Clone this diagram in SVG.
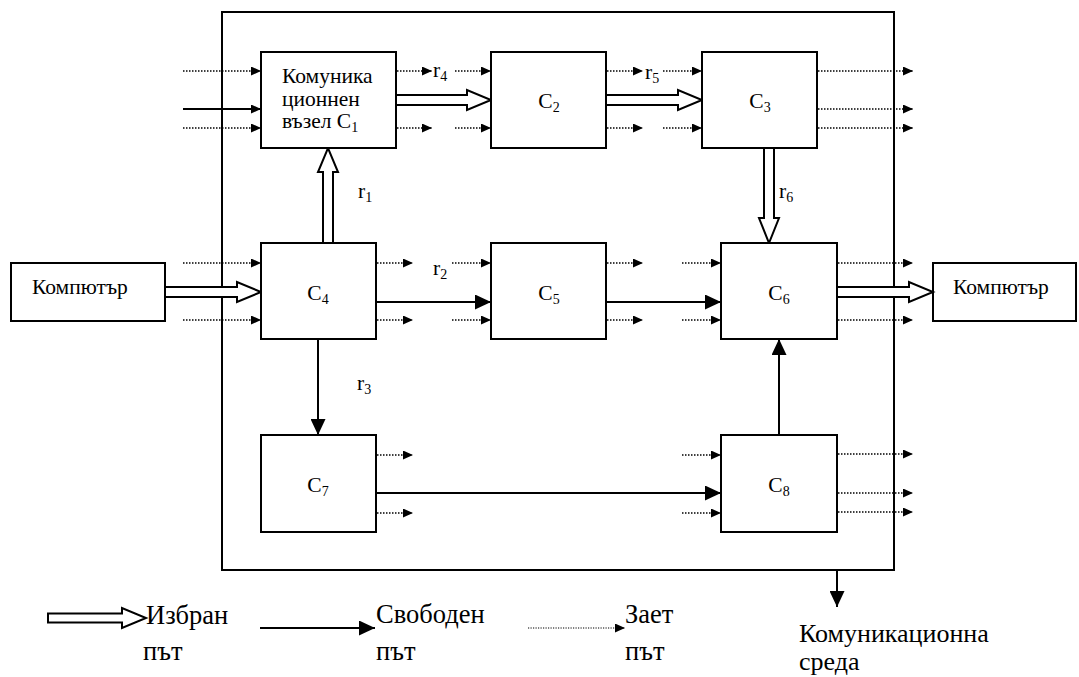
<svg xmlns="http://www.w3.org/2000/svg" width="1079" height="677" viewBox="0 0 1079 677">
<style>
.box{fill:#fff;stroke:#000;stroke-width:2}
.frame{fill:none;stroke:#000;stroke-width:2}
.solid{fill:none;stroke:#000;stroke-width:2}
.dot{fill:none;stroke:#000;stroke-width:1.5;stroke-dasharray:1.5 1.5}
.dotl{fill:none;stroke:#000;stroke-width:1.2;stroke-dasharray:1.2 1.3}
.hollow{fill:#fff;stroke:#000;stroke-width:2;stroke-linejoin:miter}
text{font-family:"Liberation Serif","Times New Roman",serif;fill:#000}
.lbl{font-size:21.5px}
.cl{font-size:21.5px;text-anchor:middle}
.sub{font-size:14px}
.leg{font-size:26.5px}
.big{font-size:26px}
</style>
<defs>
<marker id="sh" markerUnits="userSpaceOnUse" markerWidth="10" markerHeight="9" refX="10" refY="4.5" orient="auto"><path d="M0,0 L10,4.5 L0,9 z" fill="#000"/></marker>
<marker id="bh" markerUnits="userSpaceOnUse" markerWidth="16" markerHeight="15" refX="16" refY="7.5" orient="auto"><path d="M0,0 L16,7.5 L0,15 z" fill="#000"/></marker>
</defs>

<g id="network">
<rect class="frame" x="222" y="12" width="672" height="558"/>
</g>

<g id="computer-left"><rect class="box" x="11" y="263" width="154" height="58"/><text class="lbl" x="32" y="294">Компютър</text></g>
<g id="computer-right"><rect class="box" x="933" y="263" width="143" height="58"/><text class="lbl" x="953" y="294">Компютър</text></g>

<g id="connectors">
<line class="dot" x1="183" y1="71" x2="261" y2="71" marker-end="url(#sh)"/>
<line class="solid" x1="183" y1="109" x2="261" y2="109" marker-end="url(#sh)"/>
<line class="dot" x1="183" y1="128" x2="261" y2="128" marker-end="url(#sh)"/>
<line class="dot" x1="397" y1="71" x2="432" y2="71" marker-end="url(#sh)"/>
<line class="dot" x1="397" y1="128" x2="432" y2="128" marker-end="url(#sh)"/>
<line class="dot" x1="455" y1="71" x2="491" y2="71" marker-end="url(#sh)"/>
<line class="dot" x1="455" y1="128" x2="491" y2="128" marker-end="url(#sh)"/>
<line class="dot" x1="607" y1="71" x2="643" y2="71" marker-end="url(#sh)"/>
<line class="dot" x1="607" y1="128" x2="643" y2="128" marker-end="url(#sh)"/>
<line class="dot" x1="663" y1="71" x2="702" y2="71" marker-end="url(#sh)"/>
<line class="dot" x1="663" y1="128" x2="702" y2="128" marker-end="url(#sh)"/>
<line class="dot" x1="818" y1="71" x2="913" y2="71" marker-end="url(#sh)"/>
<line class="dot" x1="818" y1="109" x2="913" y2="109" marker-end="url(#sh)"/>
<line class="dot" x1="818" y1="128" x2="913" y2="128" marker-end="url(#sh)"/>
<line class="dot" x1="183" y1="263" x2="261" y2="263" marker-end="url(#sh)"/>
<line class="dot" x1="183" y1="320" x2="261" y2="320" marker-end="url(#sh)"/>
<line class="dot" x1="377" y1="263" x2="413" y2="263" marker-end="url(#sh)"/>
<line class="dot" x1="377" y1="320" x2="413" y2="320" marker-end="url(#sh)"/>
<line class="dot" x1="452" y1="263" x2="491" y2="263" marker-end="url(#sh)"/>
<line class="dot" x1="452" y1="320" x2="491" y2="320" marker-end="url(#sh)"/>
<line class="dot" x1="607" y1="263" x2="643" y2="263" marker-end="url(#sh)"/>
<line class="dot" x1="607" y1="320" x2="643" y2="320" marker-end="url(#sh)"/>
<line class="dot" x1="682" y1="263" x2="721" y2="263" marker-end="url(#sh)"/>
<line class="dot" x1="682" y1="320" x2="721" y2="320" marker-end="url(#sh)"/>
<line class="dot" x1="838" y1="263" x2="913" y2="263" marker-end="url(#sh)"/>
<line class="dot" x1="838" y1="320" x2="913" y2="320" marker-end="url(#sh)"/>
<line class="solid" x1="377" y1="302" x2="491" y2="302" marker-end="url(#bh)"/>
<line class="solid" x1="607" y1="302" x2="721" y2="302" marker-end="url(#bh)"/>
<line class="dot" x1="377" y1="455" x2="413" y2="455" marker-end="url(#sh)"/>
<line class="dot" x1="377" y1="513" x2="413" y2="513" marker-end="url(#sh)"/>
<line class="dot" x1="682" y1="455" x2="721" y2="455" marker-end="url(#sh)"/>
<line class="dot" x1="682" y1="513" x2="721" y2="513" marker-end="url(#sh)"/>
<line class="dot" x1="838" y1="454" x2="913" y2="454" marker-end="url(#sh)"/>
<line class="dot" x1="838" y1="493" x2="913" y2="493" marker-end="url(#sh)"/>
<line class="dot" x1="838" y1="512" x2="913" y2="512" marker-end="url(#sh)"/>
<line class="solid" x1="377" y1="493" x2="721" y2="493" marker-end="url(#bh)"/>
<line class="solid" x1="318" y1="339" x2="318" y2="435" marker-end="url(#bh)"/>
<line class="solid" x1="779" y1="435" x2="779" y2="339" marker-end="url(#bh)"/>
<line class="solid" x1="837" y1="570" x2="837" y2="607" marker-end="url(#bh)"/>
<polygon class="hollow" points="396,95 467,95 467,90 491,100 467,110 467,105 396,105"/>
<polygon class="hollow" points="606,95 678,95 678,90 702,100 678,110 678,105 606,105"/>
<polygon class="hollow" points="165,287 237,287 237,282 261,292 237,302 237,297 165,297"/>
<polygon class="hollow" points="837,287 909,287 909,282 933,292 909,302 909,297 837,297"/>
<polygon class="hollow" points="764,148 764,218 759,218 769,243 779,218 774,218 774,148"/>
<polygon class="hollow" points="323,243 323,172 318,172 328,148 338,172 333,172 333,243"/>
</g>

<g id="C1"><rect class="box" x="261" y="52" width="135" height="96"/>
<text class="lbl" x="282" y="83">Комуника</text>
<text class="lbl" x="282" y="106">ционнен</text>
<text class="lbl" x="282" y="128">възел C<tspan class="sub" dy="4">1</tspan></text></g>
<g id="C2"><rect class="box" x="491" y="52" width="115" height="96"/><text class="cl" x="549" y="108">C<tspan class="sub" dy="4">2</tspan></text></g>
<g id="C3"><rect class="box" x="702" y="52" width="115" height="96"/><text class="cl" x="760" y="108">C<tspan class="sub" dy="4">3</tspan></text></g>
<g id="C4"><rect class="box" x="261" y="243" width="115" height="96"/><text class="cl" x="318" y="300">C<tspan class="sub" dy="4">4</tspan></text></g>
<g id="C5"><rect class="box" x="491" y="243" width="115" height="96"/><text class="cl" x="549" y="300">C<tspan class="sub" dy="4">5</tspan></text></g>
<g id="C6"><rect class="box" x="721" y="243" width="116" height="96"/><text class="cl" x="779" y="300">C<tspan class="sub" dy="4">6</tspan></text></g>
<g id="C7"><rect class="box" x="261" y="435" width="115" height="97"/><text class="cl" x="318" y="492">C<tspan class="sub" dy="4">7</tspan></text></g>
<g id="C8"><rect class="box" x="721" y="435" width="116" height="97"/><text class="cl" x="779" y="492">C<tspan class="sub" dy="4">8</tspan></text></g>

<g id="route-labels">
<text class="lbl" x="433" y="77">r<tspan class="sub" dy="4">4</tspan></text>
<text class="lbl" x="645" y="79">r<tspan class="sub" dy="4">5</tspan></text>
<text class="lbl" x="358" y="198">r<tspan class="sub" dy="4">1</tspan></text>
<text class="lbl" x="779" y="198">r<tspan class="sub" dy="4">6</tspan></text>
<text class="lbl" x="433" y="275">r<tspan class="sub" dy="4">2</tspan></text>
<text class="lbl" x="357" y="390">r<tspan class="sub" dy="4">3</tspan></text>
</g>

<g id="medium-label">
<text class="big" x="799" y="642">Комуникационна</text>
<text class="big" x="799" y="670">среда</text>
</g>

<g id="legend">
<polygon class="hollow" points="48,613.5 122,613.5 122,608 146,618 122,628 122,622.5 48,622.5"/>
<text class="leg" x="146" y="624">Избран</text>
<text class="leg" x="143" y="660">път</text>
<line class="solid" x1="260" y1="628" x2="375" y2="628" marker-end="url(#bh)"/>
<text class="leg" x="376" y="623">Свободен</text>
<text class="leg" x="376" y="660">път</text>
<line class="dotl" x1="528" y1="628" x2="625" y2="628" marker-end="url(#sh)"/>
<text class="leg" x="625" y="623">Зает</text>
<text class="leg" x="625" y="660">път</text>
</g>
</svg>
